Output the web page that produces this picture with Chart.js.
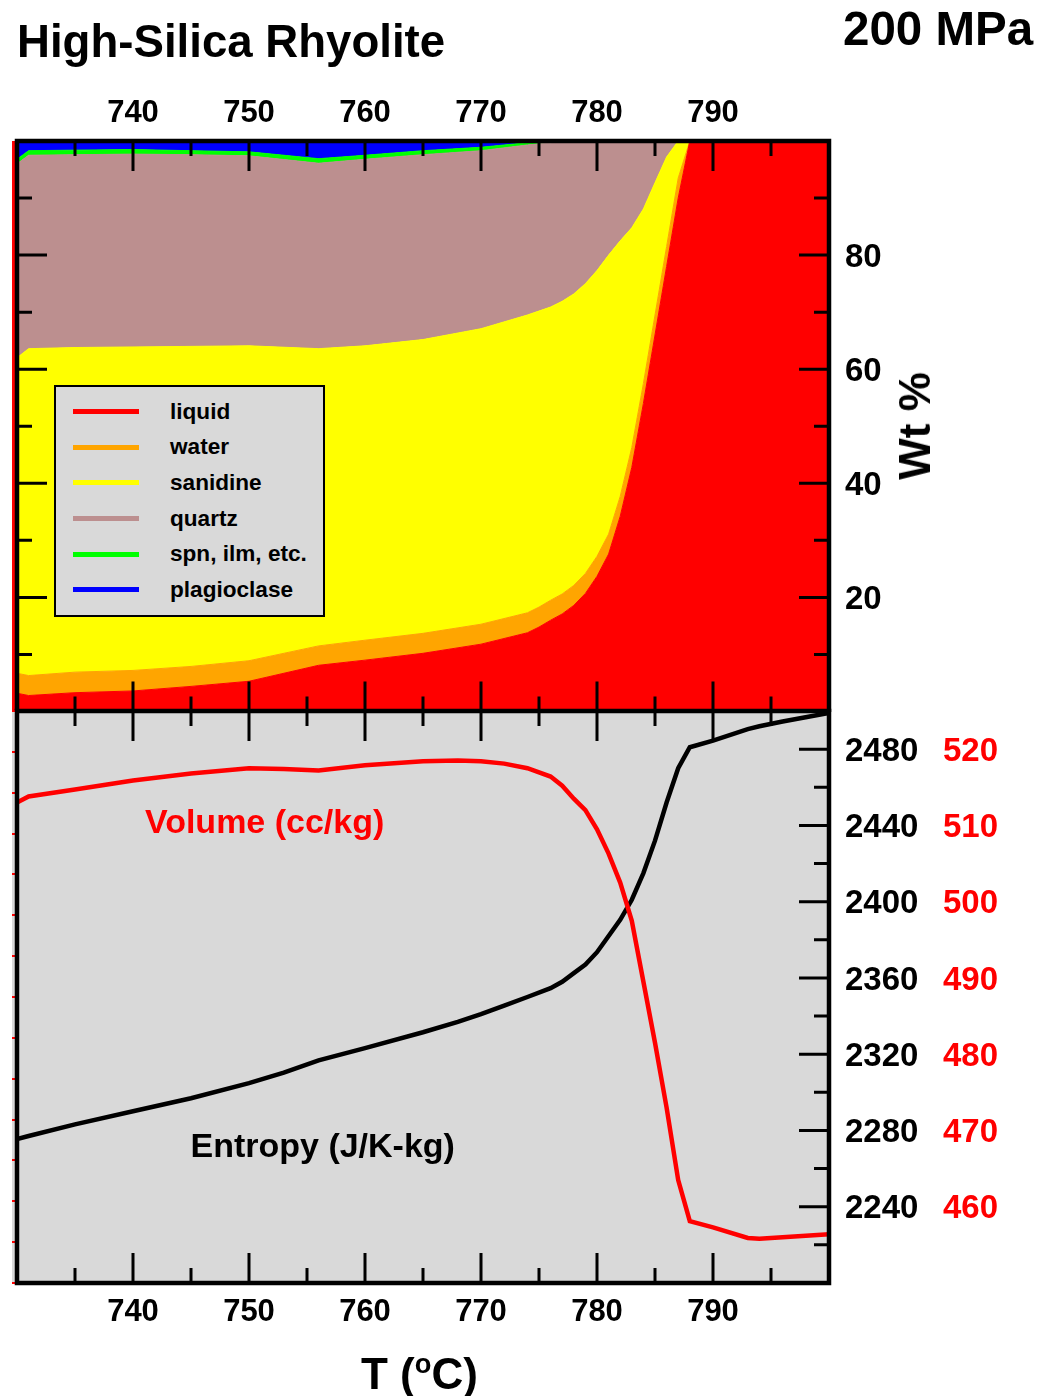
<!DOCTYPE html>
<html>
<head>
<meta charset="utf-8">
<title>High-Silica Rhyolite, 200 MPa</title>
<script src="https://cdn.jsdelivr.net/npm/chart.js@4.4.1/dist/chart.umd.min.js"></script>
<style>
    html, body { margin: 0; padding: 0; background: #fff; }
    body {
        position: relative; width: 1041px; height: 1396px; overflow: hidden;
        font-family: "Liberation Sans", Arial, Helvetica, sans-serif; font-weight: bold;
    }
    canvas { position: absolute; left: 0; }
    #topChart { top: 0; }
    #bottomChart { top: 700px; }
    .lbl { position: absolute; line-height: 1; white-space: nowrap; }
    #title { left: 17px; top: 19.4px; font-size: 45.6px; }
    #pressure { left: 843px; top: 4.8px; font-size: 47.5px; }
    #wt { left: 915px; top: 426px; font-size: 44px; transform: translate(-50%, -50%) rotate(-90deg); }
    #volLabel { left: 145px; top: 804px; font-size: 34px; color: #ff0000; }
    #entLabel { left: 190.5px; top: 1128px; font-size: 34px; }
    #xTitle { left: 361px; top: 1350px; font-size: 44px; }
    #xTitle sup { font-size: 0.62em; vertical-align: 0.6em; }
    #legend {
        position: absolute; left: 54px; top: 385px; width: 267px; height: 221px;
        padding-top: 7px; background: #d9d9d9; border: 2px solid #000;
    }
    #legend .row { display: flex; align-items: center; height: 35.6px; font-size: 22.6px; }
    #legend .swatch { display: inline-block; width: 66px; height: 5px; margin-left: 17px; margin-right: 31px; }
</style>
</head>
<body>
<canvas id="topChart" width="1041" height="712"></canvas>
<canvas id="bottomChart" width="1041" height="696"></canvas>

<div class="lbl" id="title">High-Silica Rhyolite</div>
<div class="lbl" id="pressure">200 MPa</div>
<div class="lbl" id="wt">Wt %</div>
<div class="lbl" id="volLabel">Volume (cc/kg)</div>
<div class="lbl" id="entLabel">Entropy (J/K-kg)</div>
<div class="lbl" id="xTitle">T (<sup>o</sup>C)</div>
<div id="legend"></div>

<script>
// phase proportions (wt %)
const temps    = [730, 731, 735, 740, 745, 750, 756, 760, 765, 770, 774, 775, 776, 777, 778, 779, 780, 781, 782, 783, 784, 785, 786, 787, 788, 790, 795, 800];
const liquid   = [3.2, 2.8, 3.3, 3.6, 4.4, 5.3, 8.1, 9.0, 10.2, 11.8, 13.8, 14.8, 16.0, 17.1, 18.6, 20.7, 23.7, 27.6, 34.2, 42.8, 54.0, 66.0, 78.0, 90.0, 100, 100, 100, 100];
const water    = [3.5, 3.5, 3.6, 3.6, 3.5, 3.6, 3.4, 3.5, 3.5, 3.5, 3.5, 3.5, 3.5, 3.5, 3.5, 3.5, 3.5, 3.5, 3.5, 3.5, 3.5, 3.5, 3.5, 3.5, 0, 0, 0, 0];
const sanidine = [55.3, 57.3, 56.9, 56.7, 56.1, 55.2, 52.1, 51.6, 51.5, 51.8, 52.2, 51.9, 51.4, 51.3, 51.1, 50.8, 50.1, 48.9, 44.8, 38.5, 30.6, 23.2, 15.7, 6.5, 0, 0, 0, 0];
const quartz   = [34.0, 33.9, 33.8, 33.8, 33.6, 33.3, 32.5, 32.7, 32.4, 31.2, 29.8, 29.3, 28.7, 28.0, 26.8, 25.0, 22.7, 20.0, 17.5, 15.2, 11.9, 7.3, 2.8, 0, 0, 0, 0, 0];
const spnIlm   = [0.8, 0.8, 0.8, 0.8, 0.7, 0.7, 0.8, 0.7, 0.7, 0.6, 0.4, 0.5, 0.4, 0.1, 0, 0, 0, 0, 0, 0, 0, 0, 0, 0, 0, 0, 0, 0];
const plag     = [3.2, 1.7, 1.6, 1.5, 1.7, 1.9, 3.1, 2.5, 1.7, 1.1, 0.3, 0, 0, 0, 0, 0, 0, 0, 0, 0, 0, 0, 0, 0, 0, 0, 0, 0];
const phaseNames  = ['liquid', 'water', 'sanidine', 'quartz', 'spn, ilm, etc.', 'plagioclase'];
const phaseColors = ['#ff0000', '#ffa500', '#ffff00', '#bc8f8f', '#00ff00', '#0000ff'];

// system properties for the lower panel
const lineTemps = [730, 731, 735, 740, 745, 750, 753, 756, 760, 765, 768, 770, 772, 774, 776, 777, 778, 779, 780, 781, 782, 783, 784, 785, 786, 787, 788, 790, 793, 794, 796, 800];
const entropy   = [2275.5, 2277.1, 2283.2, 2290.1, 2296.9, 2304.8, 2310.3, 2316.8, 2323.2, 2331.5, 2337, 2341, 2345.5, 2350, 2354.6, 2358, 2362.5, 2367, 2373.5, 2382, 2390.5, 2401, 2415, 2432, 2452, 2470, 2481, 2484.5, 2490.5, 2492, 2494.5, 2499];
const volume    = [513.0, 513.8, 514.7, 515.9, 516.8, 517.5, 517.4, 517.2, 517.9, 518.4, 518.5, 518.4, 518.1, 517.5, 516.4, 515.2, 513.5, 512.0, 509.5, 506.3, 502.5, 497.5, 489.5, 481.5, 473.0, 463.5, 458.1, 457.3, 455.9, 455.8, 456.0, 456.4];

const tempLabels    = [740, 750, 760, 770, 780, 790];
const wtLabels      = [20, 40, 60, 80];
const entropyLabels = [2240, 2280, 2320, 2360, 2400, 2440, 2480];
const volumeLabels  = [460, 470, 480, 490, 500, 510, 520];

Chart.defaults.font.family = '"Liberation Sans", Arial, Helvetica, sans-serif';
Chart.defaults.font.weight = 'bold';
Chart.defaults.color = '#000';

const keepTicks = list => function (scale) {
    scale.ticks = scale.ticks.filter(t => list.indexOf(t.value) >= 0);
};
const fixWidth = w => function (scale) {
    scale.width = w; scale.paddingTop = 0; scale.paddingBottom = 0;
};
const fixHeight = h => function (scale) {
    scale.height = h; scale.paddingLeft = 0; scale.paddingRight = 0;
};
const plain = v => String(v);
const noGrid = {display: false, drawTicks: false};

// frame with inward pointing tick marks, like the original plot
const frameTicks = {
    id: 'frameTicks',
    beforeDraw(chart, args, opts) {
        const a = chart.chartArea, ctx = chart.ctx;
        ctx.save();
        ctx.fillStyle = opts.strip;
        ctx.fillRect(a.left - 5, a.top, 5, a.bottom - a.top);
        if (opts.bg) {
            ctx.fillStyle = opts.bg;
            ctx.fillRect(a.left, a.top, a.right - a.left, a.bottom - a.top);
        }
        ctx.restore();
    },
    afterDraw(chart, args, opts) {
        const a = chart.chartArea, ctx = chart.ctx;
        const xs = chart.scales.x, ys = chart.scales[opts.yId];
        ctx.save();
        ctx.strokeStyle = '#000';
        ctx.lineWidth = 3;
        ctx.beginPath();
        for (let t = xs.min + 5; t < xs.max; t += 5) {
            const px = xs.getPixelForValue(t);
            const len = t % 10 === 0 ? 30 : 15;
            ctx.moveTo(px, a.top); ctx.lineTo(px, a.top + len);
            ctx.moveTo(px, a.bottom); ctx.lineTo(px, a.bottom - len);
        }
        for (let v = ys.min + opts.minor; v < ys.max; v += opts.minor) {
            const py = ys.getPixelForValue(v);
            const len = (v - ys.min) % opts.major === 0 ? 30 : 15;
            ctx.moveTo(a.right, py); ctx.lineTo(a.right - len, py);
            if (opts.left) { ctx.moveTo(a.left, py); ctx.lineTo(a.left + len, py); }
        }
        ctx.stroke();
        ctx.lineWidth = 4.5;
        ctx.strokeRect(a.left, a.top, a.right - a.left, a.bottom - a.top);
        ctx.restore();
    }
};

const phaseValues = [liquid, water, sanidine, quartz, spnIlm, plag];

const topChart = new Chart(document.getElementById('topChart'), {
    type: 'line',
    data: {
        datasets: phaseValues.map((vals, i) => ({
            label: phaseNames[i],
            data: temps.map((t, j) => ({x: t, y: vals[j]})),
            backgroundColor: phaseColors[i],
            borderColor: phaseColors[i],
            borderWidth: 1,
            pointRadius: 0,
            fill: i === 0 ? 'origin' : '-1'
        }))
    },
    options: {
        responsive: false,
        animation: false,
        layout: {padding: {left: 17, top: 0, right: 0, bottom: 0.5}},
        plugins: {
            legend: {display: false},
            tooltip: {enabled: false},
            frameTicks: {yId: 'y', minor: 10, major: 20, left: true, strip: '#ff0000'}
        },
        scales: {
            x: {
                type: 'linear', position: 'top', min: 730, max: 800,
                grid: noGrid, border: {display: false},
                ticks: {stepSize: 10, padding: 9, font: {size: 31}, callback: plain},
                afterBuildTicks: keepTicks(tempLabels), afterFit: fixHeight(141)
            },
            y: {
                type: 'linear', position: 'right', stacked: true, min: 0, max: 100,
                grid: noGrid, border: {display: false},
                ticks: {stepSize: 20, padding: 16, labelOffset: 2.5, font: {size: 33}, callback: plain},
                afterBuildTicks: keepTicks(wtLabels), afterFit: fixWidth(212)
            }
        }
    },
    plugins: [frameTicks]
});

const bottomChart = new Chart(document.getElementById('bottomChart'), {
    type: 'line',
    data: {
        datasets: [{
            label: 'Volume (cc/kg)',
            data: lineTemps.map((t, i) => ({x: t, y: volume[i]})),
            yAxisID: 'yV', borderColor: '#ff0000', borderWidth: 4.5, pointRadius: 0, order: 0
        }, {
            label: 'Entropy (J/K-kg)',
            data: lineTemps.map((t, i) => ({x: t, y: entropy[i]})),
            yAxisID: 'yS', borderColor: '#000000', borderWidth: 4.5, pointRadius: 0, order: 1
        }]
    },
    options: {
        responsive: false,
        animation: false,
        layout: {padding: {left: 12, top: 11, right: 0, bottom: 0}},
        plugins: {
            legend: {display: false},
            tooltip: {enabled: false},
            frameTicks: {yId: 'yS', minor: 20, major: 40, left: false, strip: '#d9d9d9', bg: '#d9d9d9'}
        },
        scales: {
            x: {
                type: 'linear', position: 'bottom', min: 730, max: 800,
                grid: noGrid, border: {display: false},
                ticks: {stepSize: 10, padding: 11, font: {size: 31}, callback: plain},
                afterBuildTicks: keepTicks(tempLabels), afterFit: fixHeight(113)
            },
            // leftover red tick marks outside the left edge
            yL: {
                type: 'linear', position: 'left', min: 0, max: 14,
                grid: {drawOnChartArea: false, drawTicks: true, tickLength: 5, color: '#ff0000', lineWidth: 2},
                border: {display: false},
                ticks: {display: false, stepSize: 1},
                afterFit: fixWidth(5)
            },
            yS: {
                type: 'linear', position: 'right', weight: 0, min: 2200, max: 2500,
                grid: noGrid, border: {display: false},
                ticks: {stepSize: 40, padding: 16, labelOffset: 2.5, font: {size: 33}, callback: plain},
                afterBuildTicks: keepTicks(entropyLabels), afterFit: fixWidth(100)
            },
            yV: {
                type: 'linear', position: 'right', weight: 1, min: 450, max: 525,
                grid: noGrid, border: {display: false},
                ticks: {stepSize: 10, padding: 14, labelOffset: 2.5, color: '#ff0000', font: {size: 33}, callback: plain},
                afterBuildTicks: keepTicks(volumeLabels), afterFit: fixWidth(112)
            }
        }
    },
    plugins: [frameTicks]
});

// legend box built from the phase datasets
const legendEl = document.getElementById('legend');
topChart.data.datasets.forEach(function (ds) {
    const row = document.createElement('div');
    row.className = 'row';
    const sw = document.createElement('span');
    sw.className = 'swatch';
    sw.style.background = ds.backgroundColor;
    row.appendChild(sw);
    row.appendChild(document.createTextNode(ds.label));
    legendEl.appendChild(row);
});
</script>
</body>
</html>
